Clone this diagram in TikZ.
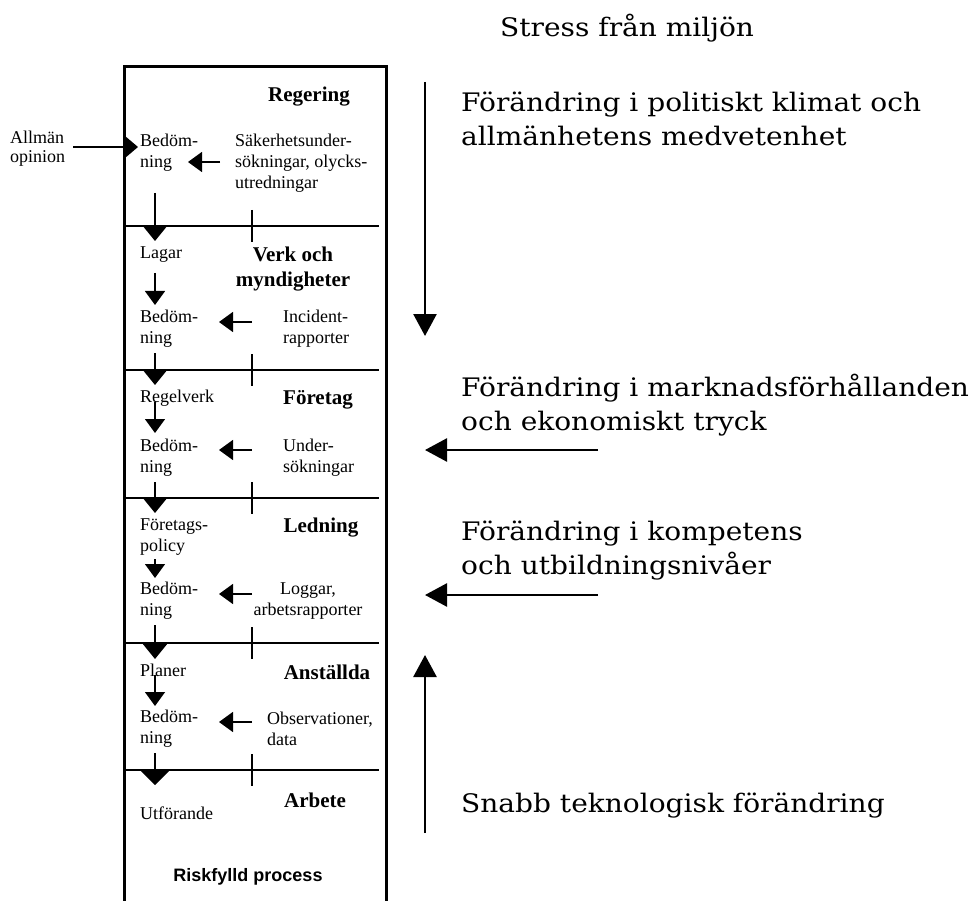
\documentclass[tikz,border=0pt]{standalone}
\usepackage{fontspec}
\setmainfont{Liberation Serif}
\newfontfamily\rfont[FakeStretch=1.1]{DejaVu Serif}
\newfontfamily\sfont{Liberation Sans}
\usetikzlibrary{arrows.meta}
\begin{document}
\begin{tikzpicture}[x=1pt,y=-1pt,
  lbl/.style={font=\fontsize{18}{21}\selectfont, align=left, inner sep=0pt, anchor=west},
  hd/.style={font=\fontsize{21}{25}\selectfont\bfseries, align=center, inner sep=0pt},
  rt/.style={font=\rfont\fontsize{25.5}{34}\selectfont, align=left, inner sep=0pt, anchor=west},
  boxline/.style={line width=3pt},
  divline/.style={line width=2.2pt},
  tickline/.style={line width=1.4pt},
  inarrow/.style={line width=1.5pt, -{Triangle[width=20pt,length=14pt]}},
  crossarrow/.style={line width=1.5pt, -{Triangle[width=24pt,length=15pt]}},
  bigarrow/.style={line width=2.6pt, -{Triangle[width=23pt,length=22pt]}}
]
\useasboundingbox (0,0) rectangle (977,901);

% main box
\draw[boxline] (124,901) -- (124,67) -- (386,67) -- (386,901);
% dividers and ticks
\foreach \yy in {226,370,498,643,770}{
  \draw[divline] (124,\yy) -- (379,\yy);
  \draw[tickline] (252,\yy-16) -- (252,\yy+16);
}

% ---- Regering
\node[hd] (reg) at (309,97) {Regering};
\node[lbl] (b1) at (140,153) {Bedöm-\\ning};
\node[lbl] (s1) at (235,163) {Säkerhetsunder-\\sökningar, olycks-\\utredningar};
\node[lbl, font=\fontsize{18}{19}\selectfont] (op) at (10,149) {Allmän\\opinion};
\coordinate (opT) at (138,147);
\draw[line width=1.5pt, -{Triangle[width=20pt,length=12pt]}] (op.east |- opT) ++(8,0) -- (opT);
\coordinate (a1s) at (220,162); \coordinate (a1e) at (188,162);
\draw[inarrow] (a1s) -- (a1e);
\coordinate (d1s) at (155,193); \coordinate (d1e) at (155,241);
\draw[crossarrow] (d1s) -- (d1e);

% ---- Verk och myndigheter
\node[hd] (verk) at (293,269) {Verk och\\myndigheter};
\node[lbl] (lagar) at (140,255) {Lagar};
\node[lbl] (b2) at (140,329) {Bedöm-\\ning};
\node[lbl] (s2) at (283,329) {Incident-\\rapporter};
\coordinate (l2s) at (155,273); \coordinate (l2e) at (155,305);
\draw[inarrow] (l2s) -- (l2e);
\draw[inarrow] (252,322) -- (219,322);
\coordinate (d2s) at (155,353); \coordinate (d2e) at (155,385);
\draw[crossarrow] (d2s) -- (d2e);

% ---- Foretag
\node[hd] (foretag) at (318,400) {Företag};
\node[lbl] (regel) at (140,398) {Regelverk};
\node[lbl] (b3) at (140,458) {Bedöm-\\ning};
\node[lbl] (s3) at (283,458) {Under-\\sökningar};
\draw[inarrow] (155,402) -- (155,433);
\draw[inarrow] (252,450) -- (219,450);
\draw[crossarrow] (155,482) -- (155,513);

% ---- Ledning
\node[hd] (led) at (321,528) {Ledning};
\node[lbl] (pol) at (140,537) {Företags-\\policy};
\node[lbl] (b4) at (140,601) {Bedöm-\\ning};
\node[lbl, align=center, anchor=center] (s4) at (308,601) {Loggar,\\arbetsrapporter};
\draw[inarrow] (155,559) -- (155,578);
\draw[inarrow] (252,594) -- (219,594);
\draw[crossarrow] (155,625) -- (155,659);

% ---- Anstallda
\node[hd] (anst) at (327,672) {Anställda};
\node[lbl] (plan) at (140,670) {Planer};
\node[lbl] (b5) at (140,729) {Bedöm-\\ning};
\node[lbl] (s5) at (267,729) {Observationer,\\data};
\draw[inarrow] (155,675) -- (155,706);
\draw[inarrow] (252,722) -- (219,722);
\draw[line width=1.5pt, -{Triangle[width=28pt,length=14pt]}] (155,753) -- (155,785);

% ---- Arbete
\node[hd] (arb) at (315,800) {Arbete};
\node[lbl] (utf) at (140,813) {Utförande};
\node[font=\sfont\bfseries\fontsize{18}{21}\selectfont, inner sep=0pt] (risk) at (248,877) {Riskfylld process};

% ---- right side
\node[rt] (stress) at (500,28) {Stress från miljön};
\node[rt] (t1) at (461,119) {Förändring i politiskt klimat och\\allmänhetens medvetenhet};
\node[rt] (t2) at (461,405) {Förändring i marknadsförhållanden\\och ekonomiskt tryck};
\node[rt] (t3) at (461,551) {Förändring i kompetens\\och utbildningsnivåer};
\node[rt] (t4) at (461,806) {Snabb teknologisk förändring};

\coordinate (r1s) at (425,82); \coordinate (r1e) at (425,336);
\draw[bigarrow] (r1s) -- (r1e);
\coordinate (r2s) at (598,450); \coordinate (r2e) at (425,450);
\draw[bigarrow] (r2s) -- (r2e);
\coordinate (r3s) at (598,595); \coordinate (r3e) at (425,595);
\draw[bigarrow] (r3s) -- (r3e);
\coordinate (r4s) at (425,833); \coordinate (r4e) at (425,655);
\draw[bigarrow] (r4s) -- (r4e);
\end{tikzpicture}
\end{document}
